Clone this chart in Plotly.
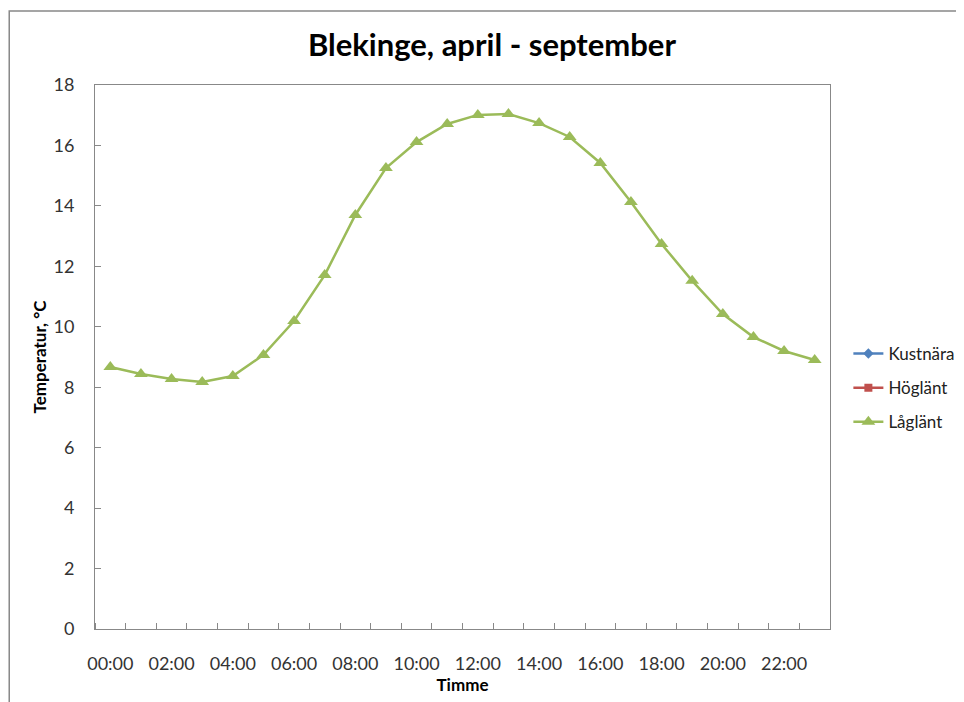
import plotly.graph_objects as go

hours = ["00:00", "01:00", "02:00", "03:00", "04:00", "05:00", "06:00", "07:00",
         "08:00", "09:00", "10:00", "11:00", "12:00", "13:00", "14:00", "15:00",
         "16:00", "17:00", "18:00", "19:00", "20:00", "21:00", "22:00", "23:00"]
kustnara = [None] * 24
hoglant = [None] * 24
laglant = [8.67, 8.44, 8.27, 8.17, 8.37, 9.07, 10.19, 11.71, 13.70, 15.25, 16.11, 16.71,
           17.01, 17.04, 16.74, 16.28, 15.42, 14.13, 12.74, 11.52, 10.42, 9.66, 9.20, 8.90]
y_ticks = [0, 2, 4, 6, 8, 10, 12, 14, 16, 18]

xpos = list(range(len(hours)))
font = "Lato, 'Open Sans', sans-serif"

fig = go.Figure()
fig.add_trace(go.Scatter(x=xpos, y=kustnara, name="Kustnära", mode="lines+markers",
                         legendgroup="a",
                         line=dict(color="#4F81BD", width=2.5),
                         marker=dict(symbol="diamond", size=8, color="#4F81BD")))
fig.add_trace(go.Scatter(x=xpos, y=hoglant, name="Höglänt", mode="lines+markers",
                         legendgroup="b",
                         line=dict(color="#C0504D", width=2.5),
                         marker=dict(symbol="square", size=8, color="#C0504D")))
fig.add_trace(go.Scatter(x=xpos, y=laglant, name="Låglänt", mode="lines+markers",
                         legendgroup="c",
                         line=dict(color="#9BBB59", width=2.5),
                         marker=dict(symbol="triangle-up", size=12, color="#9BBB59")))

fig.update_layout(
    width=964, height=702,
    margin=dict(l=87, r=140, t=77, b=81),
    paper_bgcolor="white", plot_bgcolor="white",
    font=dict(family=font, color="#222", size=18),
    title=dict(text="<b>Blekinge, april - september</b>", x=0.502, xanchor="center",
               y=0.947, yanchor="middle", font=dict(size=31, color="black")),
    legend=dict(x=1.025, y=0.443, xanchor="left", yanchor="middle",
                font=dict(size=17, color="#222"), tracegroupgap=9, itemwidth=30),
    showlegend=True,
)
fig.update_xaxes(
    range=[-0.5, 23.5], tickmode="array", tickvals=xpos[::2], ticktext=hours[::2],
    ticks="", showline=True, linecolor="#888", linewidth=1, mirror=True,
    showgrid=False, zeroline=False, ticklabelstandoff=18,
    minor=dict(tickmode="linear", tick0=-0.5, dtick=1, ticks="inside", ticklen=6,
               tickcolor="#888", showgrid=False),
    title=dict(text="<b>Timme</b>", font=dict(size=17, color="black"), standoff=3),
    tickfont=dict(size=18, color="#333"),
)
fig.update_yaxes(
    range=[0, 18], tickmode="array", tickvals=y_ticks, ticks="inside", ticklen=6,
    tickcolor="#888", showline=True, linecolor="#888", linewidth=1, mirror=True,
    showgrid=False, zeroline=False, ticklabelstandoff=16,
    title=dict(text="<b>Temperatur, °C</b>", font=dict(size=17, color="black"), standoff=2),
    tickfont=dict(size=18, color="#333"),
)
fig.add_shape(type="rect", xref="paper", yref="paper",
              x0=-86/737, x1=1.25, y0=-0.2, y1=(628-10)/544,
              line=dict(color="#888", width=1.5), fillcolor="rgba(0,0,0,0)", layer="below")

fig.write_html("out.html")
